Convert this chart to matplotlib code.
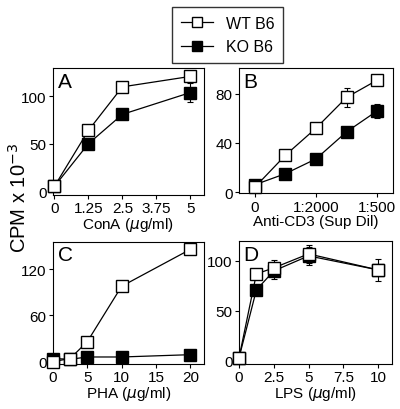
import matplotlib.pyplot as plt

plt.rcParams['font.family'] = ['Liberation Sans', 'DejaVu Sans']

# Panel A: ConA
conA_x = [0, 1.25, 2.5, 5]
conA_wt = [5, 64, 110, 121]
conA_ko = [5, 50, 81, 104]
conA_wt_err = [0, 0, 0, 6]
conA_ko_err = [0, 0, 0, 10]

# Panel B: Anti-CD3 dilution steps
cd3_x = [0, 1, 2, 3, 4]
cd3_wt = [4, 30, 52, 77, 91]
cd3_ko = [6, 15, 27, 49, 66]
cd3_wt_err = [0, 0, 0, 8, 0]
cd3_ko_err = [0, 0, 0, 0, 6]
cd3_ticks = [0, 2, 4]
cd3_ticklabels = ['0', '1:2000', '1:500']

# Panel C: PHA
pha_x = [0, 2.5, 5, 10, 20]
pha_wt = [0, 4, 26, 98, 146]
pha_ko = [4, 3, 6, 6, 9]

# Panel D: LPS
lps_x = [0, 1.25, 2.5, 5, 10]
lps_wt = [3, 87, 93, 107, 91]
lps_ko = [3, 71, 90, 105, 91]
lps_wt_err = [0, 0, 8, 9, 11]
lps_ko_err = [0, 0, 8, 9, 0]

fig = plt.figure(figsize=(4.0, 4.1), dpi=100)

panels = [
    # rect, letter, x, wt, ko, wt_err, ko_err, xlim, ylim, xticks, xticklabels, yticks, xlabel
    ([0.1325, 0.522, 0.3775, 0.310], 'A', conA_x, conA_wt, conA_ko, conA_wt_err, conA_ko_err,
     (-0.05, 5.5), (-4, 130), [0, 1.25, 2.5, 3.75, 5], ['0', '1.25', '2.5', '3.75', '5'],
     [0, 50, 100], r'ConA ($\mu$g/ml)'),
    ([0.5975, 0.526, 0.385, 0.306], 'B', cd3_x, cd3_wt, cd3_ko, cd3_wt_err, cd3_ko_err,
     (-0.52, 4.52), (-1, 101), cd3_ticks, cd3_ticklabels,
     [0, 40, 80], 'Anti-CD3 (Sup Dil)'),
    ([0.1325, 0.110, 0.3775, 0.298], 'C', pha_x, pha_wt, pha_ko, None, None,
     (0, 22), (-3, 156), [0, 5, 10, 15, 20], ['0', '5', '10', '15', '20'],
     [0, 60, 120], r'PHA ($\mu$g/ml)'),
    ([0.5975, 0.110, 0.3825, 0.300], 'D', lps_x, lps_wt, lps_ko, lps_wt_err, lps_ko_err,
     (0, 11), (-3, 120), [0, 2.5, 5, 7.5, 10], ['0', '2.5', '5', '7.5', '10'],
     [0, 50, 100], r'LPS ($\mu$g/ml)'),
]

for (rect, letter, x, wt, ko, wt_err, ko_err, xlim, ylim,
     xticks, xticklabels, yticks, xlabel) in panels:
    ax = fig.add_axes(rect)
    if ko_err is not None:
        ax.errorbar(x, ko, yerr=ko_err, fmt='none', ecolor='black',
                    elinewidth=0.8, capsize=2.5, capthick=0.8)
    ax.plot(x, ko, color='black', lw=0.9, marker='s', markersize=8,
            markerfacecolor='black', markeredgecolor='black', clip_on=False,
            label='KO B6', zorder=3)
    if wt_err is not None:
        ax.errorbar(x, wt, yerr=wt_err, fmt='none', ecolor='black',
                    elinewidth=0.8, capsize=2.5, capthick=0.8)
    ax.plot(x, wt, color='black', lw=0.9, marker='s', markersize=8,
            markerfacecolor='white', markeredgecolor='black', clip_on=False,
            label='WT B6', zorder=4)
    ax.set_xlim(*xlim)
    ax.set_ylim(*ylim)
    ax.set_xticks(xticks)
    ax.set_xticklabels(xticklabels)
    ax.set_yticks(yticks)
    ax.tick_params(direction='out', length=3, width=0.8, labelsize=11, pad=1.5)
    for s in ax.spines.values():
        s.set_linewidth(0.8)
    ax.set_xlabel(xlabel, fontsize=11, labelpad=0)
    ax.text(0.03, 0.97, letter, transform=ax.transAxes, fontsize=15,
            va='top', ha='left')
    if letter == 'A':
        handles, labels = ax.get_legend_handles_labels()

fig.legend(handles[::-1], labels[::-1], loc='upper left',
           bbox_to_anchor=(0.43, 0.981), borderaxespad=0, frameon=True,
           fancybox=False, edgecolor='black', fontsize=11.5, handlelength=2.0,
           labelspacing=0.55, borderpad=0.55, handletextpad=0.8,
           markerscale=0.9)

fig.text(0.048, 0.517, r'CPM x 10$^{-3}$', rotation=90, fontsize=14.5,
         va='center', ha='center')

fig.savefig('out.png', dpi=100)
